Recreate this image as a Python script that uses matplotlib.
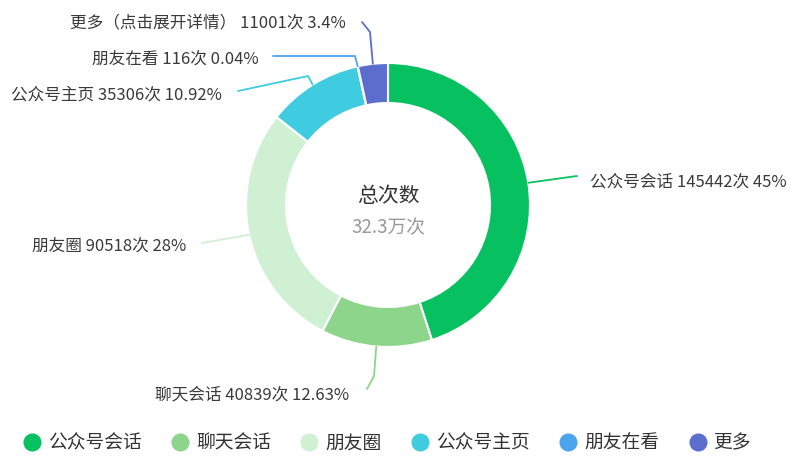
import numpy as np
import matplotlib
matplotlib.use("Agg")
import matplotlib.pyplot as plt
from matplotlib.lines import Line2D

plt.rcParams['font.family'] = ['Noto Sans CJK SC', 'DejaVu Sans']

# data
names = ["公众号会话", "聊天会话", "朋友圈", "公众号主页", "朋友在看", "更多"]
label_names = ["公众号会话", "聊天会话", "朋友圈", "公众号主页", "朋友在看", "更多（点击展开详情）"]
counts = [145442, 40839, 90518, 35306, 116, 11001]
pcts = ["45%", "12.63%", "28%", "10.92%", "0.04%", "3.4%"]
colors = ["#07c160", "#8dd58b", "#cff0d2", "#3fcce0", "#4aa5ee", "#5b6ecd"]
center_title = "总次数"
center_value = "32.3万次"

W, H = 800, 471
cx, cy = 388, 205
r_out, ring = 142, 40


def py(y):
    # pixel row (from top) -> data y
    return H - y


# label layout (pixels, y from top): text anchor and leader-line points after the wedge
label_xy = [(590, 182, 'left'), (349, 395, 'right'), (186, 246, 'right'),
            (222, 95, 'right'), (259, 59, 'right'), (346, 23, 'right')]
leader_pts = [
    [(577, 176)],
    [(374, 376), (367, 389)],
    [(202, 243)],
    [(308, 76), (238, 91)],
    [(355, 56), (273, 56)],
    [(370, 32), (362, 22)],
]

fig = plt.figure(figsize=(W / 100, H / 100), dpi=100)
ax = fig.add_axes([0, 0, 1, 1])

ax.pie(counts, colors=colors, startangle=90, counterclock=False,
       radius=r_out, center=(cx, py(cy)),
       wedgeprops=dict(width=ring, edgecolor='white', linewidth=1.5))

ax.set_xlim(0, W)
ax.set_ylim(0, H)
ax.set_aspect('equal')
ax.axis('off')

total = sum(counts)
cum = 0
for i, v in enumerate(counts):
    theta = np.deg2rad(90 - 360 * (cum + v / 2) / total)
    cum += v
    x0 = cx + r_out * np.cos(theta)
    y0 = py(cy) + r_out * np.sin(theta)
    xs = [x0] + [p[0] for p in leader_pts[i]]
    ys = [y0] + [py(p[1]) for p in leader_pts[i]]
    ax.plot(xs, ys, color=colors[i], lw=1.3, solid_capstyle='round')
    tx, ty, ha = label_xy[i]
    ax.text(tx, py(ty), "{} {}次 {}".format(label_names[i], counts[i], pcts[i]),
            ha=ha, va='center', fontsize=12, color='#3a3a3a')

ax.text(cx, py(196), center_title, ha='center', va='center', fontsize=15, color='#333333')
ax.text(cx, py(228), center_value, ha='center', va='center', fontsize=13.5, color='#999999')

handles = [Line2D([], [], marker='o', ls='', markersize=12, color=c) for c in colors]
ax.legend(handles, names, loc='center', bbox_to_anchor=(0.484, 1 - 443 / H),
          ncol=6, frameon=False, fontsize=13.5, handlelength=0.9,
          handletextpad=0.4, columnspacing=1.6, labelcolor='#333333')

fig.savefig("out.png", dpi=100)
